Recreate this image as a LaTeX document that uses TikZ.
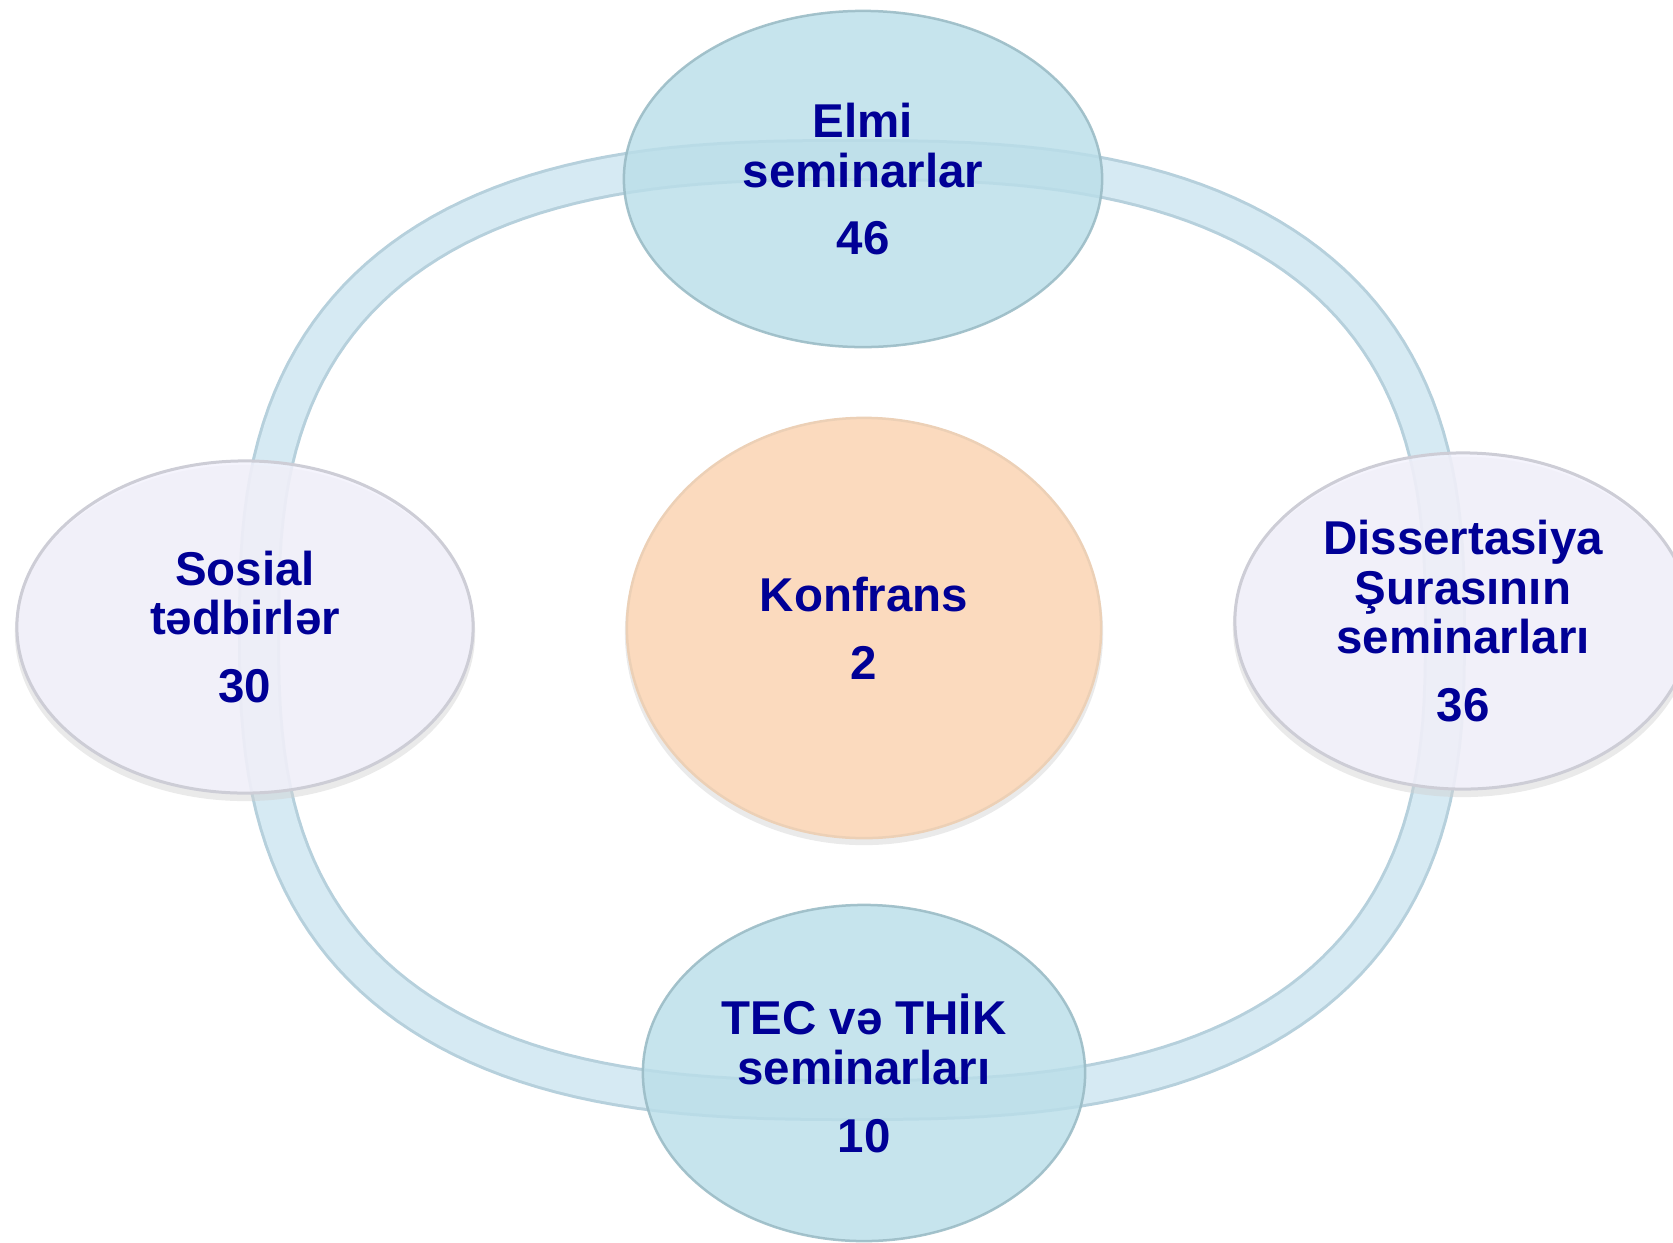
\documentclass[tikz,border=0pt]{standalone}
\usepackage{fontspec}
\setmainfont{Liberation Sans}
\usetikzlibrary{shapes.geometric}
\definecolor{ringfill}{RGB}{214,234,243}
\definecolor{ringedge}{RGB}{182,208,220}
\definecolor{bluefill}{RGB}{186,222,233}
\definecolor{blueedge}{RGB}{155,188,198}
\definecolor{lavfill}{RGB}{243,242,252}
\definecolor{lavedge}{RGB}{205,205,214}
\definecolor{peachfill}{RGB}{251,218,190}
\definecolor{peachedge}{RGB}{236,208,182}
\definecolor{txt}{RGB}{0,0,150}
\tikzset{
  lbl/.style={text=txt, text opacity=1, align=center,
    font=\fontsize{13.5pt}{14.2pt}\selectfont\bfseries},
  ellbase/.style={ellipse, inner sep=0pt, lbl},
  blueell/.style={ellbase, fill=bluefill, fill opacity=0.82, draw=blueedge, draw opacity=0.9, line width=0.025cm},
  lavell/.style={ellbase, fill=lavfill, fill opacity=0.82, draw=lavedge, line width=0.03cm},
  peachell/.style={ellbase, fill=peachfill, draw=peachedge, line width=0.025cm},
  shadowell/.style={ellipse, inner sep=0pt, fill=black!18, fill opacity=0.45},
  ringpath/.style={domain=0.5:360.5, samples=181, variable=\t},
}
\begin{document}
\begin{tikzpicture}[x=0.01cm,y=-0.01cm]
\useasboundingbox (0,0) rectangle (1673,1242);
% ring (superellipse)
\draw[ringedge, line width=0.42cm] plot[ringpath]
  ({852+593*cos(\t)*pow(abs(cos(\t)),-0.2593)}, {630+470*sin(\t)*pow(abs(sin(\t)),-0.2593)}) -- cycle;
\draw[ringfill, line width=0.36cm] plot[ringpath]
  ({852+593*cos(\t)*pow(abs(cos(\t)),-0.2593)}, {630+470*sin(\t)*pow(abs(sin(\t)),-0.2593)}) -- cycle;
% shadows
\node[shadowell, minimum width=4.6cm, minimum height=3.36cm] (sl) at (245,633) {};
\node[shadowell, minimum width=4.6cm, minimum height=3.4cm] (sr) at (1463,627) {};
\node[shadowell, minimum width=4.78cm, minimum height=4.24cm] (sc) at (864,633) {};
% nodes
\node[blueell, minimum width=4.78cm, minimum height=3.36cm] (top) at (863,179)
  {Elmi\\seminarlar\\[5.1pt]46};
\node[peachell, minimum width=4.74cm, minimum height=4.2cm] (mid) at (864,628)
  {Konfrans\\[5.1pt]2};
\node[lavell, minimum width=4.56cm, minimum height=3.32cm] (left) at (245,627)
  {Sosial\\tədbirlər\\[5.1pt]30};
\node[lavell, minimum width=4.56cm, minimum height=3.36cm] (right) at (1463,621)
  {Dissertasiya\\Şurasının\\seminarları\\[5.1pt]36};
\node[blueell, minimum width=4.42cm, minimum height=3.36cm] (bot) at (864,1073)
  {TEC və THİK\\seminarları\\[5.1pt]10};
\end{tikzpicture}
\end{document}
